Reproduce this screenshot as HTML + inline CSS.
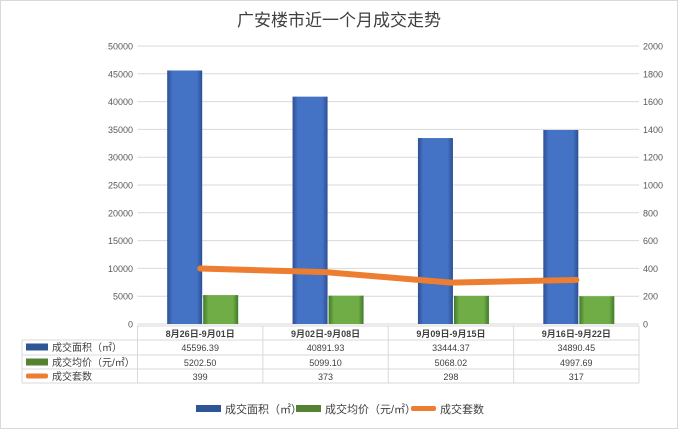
<!DOCTYPE html>
<html><head><meta charset="utf-8"><style>
body{margin:0;background:#fff;}
svg{display:block;font-family:"Liberation Sans","Noto Sans CJK SC",sans-serif;}
</style></head><body>
<svg id="c" width="678" height="429" viewBox="0 0 678 429">
<defs>
<linearGradient id="gb" x1="0" x2="1"><stop offset="0" stop-color="#2c4f93"/><stop offset="0.15" stop-color="#4472c4"/><stop offset="0.85" stop-color="#4472c4"/><stop offset="1" stop-color="#2c4f93"/></linearGradient>
<linearGradient id="gg" x1="0" x2="1"><stop offset="0" stop-color="#3f7a2a"/><stop offset="0.15" stop-color="#70ad47"/><stop offset="0.85" stop-color="#70ad47"/><stop offset="1" stop-color="#3f7a2a"/></linearGradient>
</defs>
<rect x="0.5" y="0.5" width="677" height="428" fill="#fff" stroke="#d9d9d9"/>
<text x="339" y="26" font-size="17" text-anchor="middle" fill="#404040">广安楼市近一个月成交走势</text>
<g id="grid"></g><g id="bars"></g><g id="line"></g><g id="table"></g>
<g>
<rect x="196" y="405" width="25" height="7" fill="#2f5597"/>
<text x="225" y="413" font-size="11" fill="#404040">成交面积（㎡）</text>
<rect x="296" y="405" width="25" height="7" fill="#548235"/>
<text x="325" y="413" font-size="11" fill="#404040">成交均价（元/㎡）</text>
<rect x="411" y="406" width="25" height="5" rx="2" fill="#ed7d31"/>
<text x="440" y="413" font-size="11" fill="#404040">成交套数</text>
</g>
</svg>
<script>
const categories=["8月26日-9月01日","9月02日-9月08日","9月09日-9月15日","9月16日-9月22日"];
const areaValues=[45596.39,40891.93,33444.37,34890.45];
const priceValues=[5202.50,5099.10,5068.02,4997.69];
const countValues=[399,373,298,317];
const areaLabels=["45596.39","40891.93","33444.37","34890.45"];
const priceLabels=["5202.50","5099.10","5068.02","4997.69"];
const leftTicks=[0,5000,10000,15000,20000,25000,30000,35000,40000,45000,50000];
const rightTicks=[0,200,400,600,800,1000,1200,1400,1600,1800,2000];
const NS="http://www.w3.org/2000/svg";
const X0=137.5,X1=639,Y0=324,Y1=46;
const cw=(X1-X0)/categories.length;
const yL=v=>Y0-(v/50000)*(Y0-Y1);
const yR=v=>Y0-(v/2000)*(Y0-Y1);
const xC=i=>X0+cw*(i+0.5);
function mk(tag,at,parent,txt){const e=document.createElementNS(NS,tag);for(const k in at)e.setAttribute(k,at[k]);if(txt!==undefined)e.textContent=txt;document.getElementById(parent).appendChild(e);return e;}
leftTicks.forEach(t=>{
 const g=mk('line',{x1:X0,x2:X1,y1:yL(t),y2:yL(t),stroke:'#d9d9d9','stroke-width':1},'grid');
 
 
 const l=mk('text',{x:133,y:yL(t)+3.5,'font-size':9,'text-anchor':'end',fill:'#595959'},'grid',String(t));
 
 
});
rightTicks.forEach(t=>{
 const l=mk('text',{x:643,y:yR(t)+3.5,'font-size':9,fill:'#595959'},'grid',String(t));
 
 
});
categories.forEach((c,i)=>{
 const b=mk('rect',{x:xC(i)-33,y:yL(areaValues[i]),width:35,height:Y0-yL(areaValues[i]),fill:'url(#gb)'},'bars');
 
 
 const g=mk('rect',{x:xC(i)+3,y:yL(priceValues[i]),width:35,height:Y0-yL(priceValues[i]),fill:'url(#gg)'},'bars');
 
 
});
const pts=countValues.map((v,i)=>xC(i)+','+yR(v)).join(' ');
const pl=mk('polyline',{points:pts,fill:'none',stroke:'#ed7d31','stroke-width':6,'stroke-linejoin':'round','stroke-linecap':'round'},'line');


// table
const rows=[326,340,355,369,383];
const tl=[[X0,rows[0],X1,rows[0]]];
for(let r=1;r<rows.length;r++)tl.push([22,rows[r],X1,rows[r]]);
tl.push([22,rows[1],22,rows[4]]);
for(let i=0;i<=categories.length;i++)tl.push([X0+cw*i,rows[0],X0+cw*i,rows[4]]);
tl.forEach(a=>{const l=mk('line',{x1:a[0],y1:a[1],x2:a[2],y2:a[3],stroke:'#d9d9d9'},'table');
 
 });
const rowData=[areaLabels,priceLabels,countValues.map(String)];
categories.forEach((c,i)=>{
 const h=mk('text',{x:xC(i),y:337,'font-size':9,'text-anchor':'middle',fill:'#404040','font-weight':'bold'},'table',c);
 
 
 rowData.forEach((rd,r)=>{
  const t=mk('text',{x:xC(i),y:rows[r+1]+11,'font-size':9,'text-anchor':'middle',fill:'#404040'},'table',rd[i]);
  
  
 });
});
const rl=[['成交面积（㎡）','#2f5597',7],['成交均价（元/㎡）','#548235',7],['成交套数','#ed7d31',5]];
rl.forEach((r,k)=>{
 const s=mk('rect',{x:26,y:rows[k+1]+7-r[2]/2,width:22,height:r[2],rx:k==2?2:0,fill:r[1]},'table');
 
 
 const t=mk('text',{x:52,y:rows[k+1]+11,'font-size':10,fill:'#404040'},'table',r[0]);
 
 
});
</script>
</body></html>
